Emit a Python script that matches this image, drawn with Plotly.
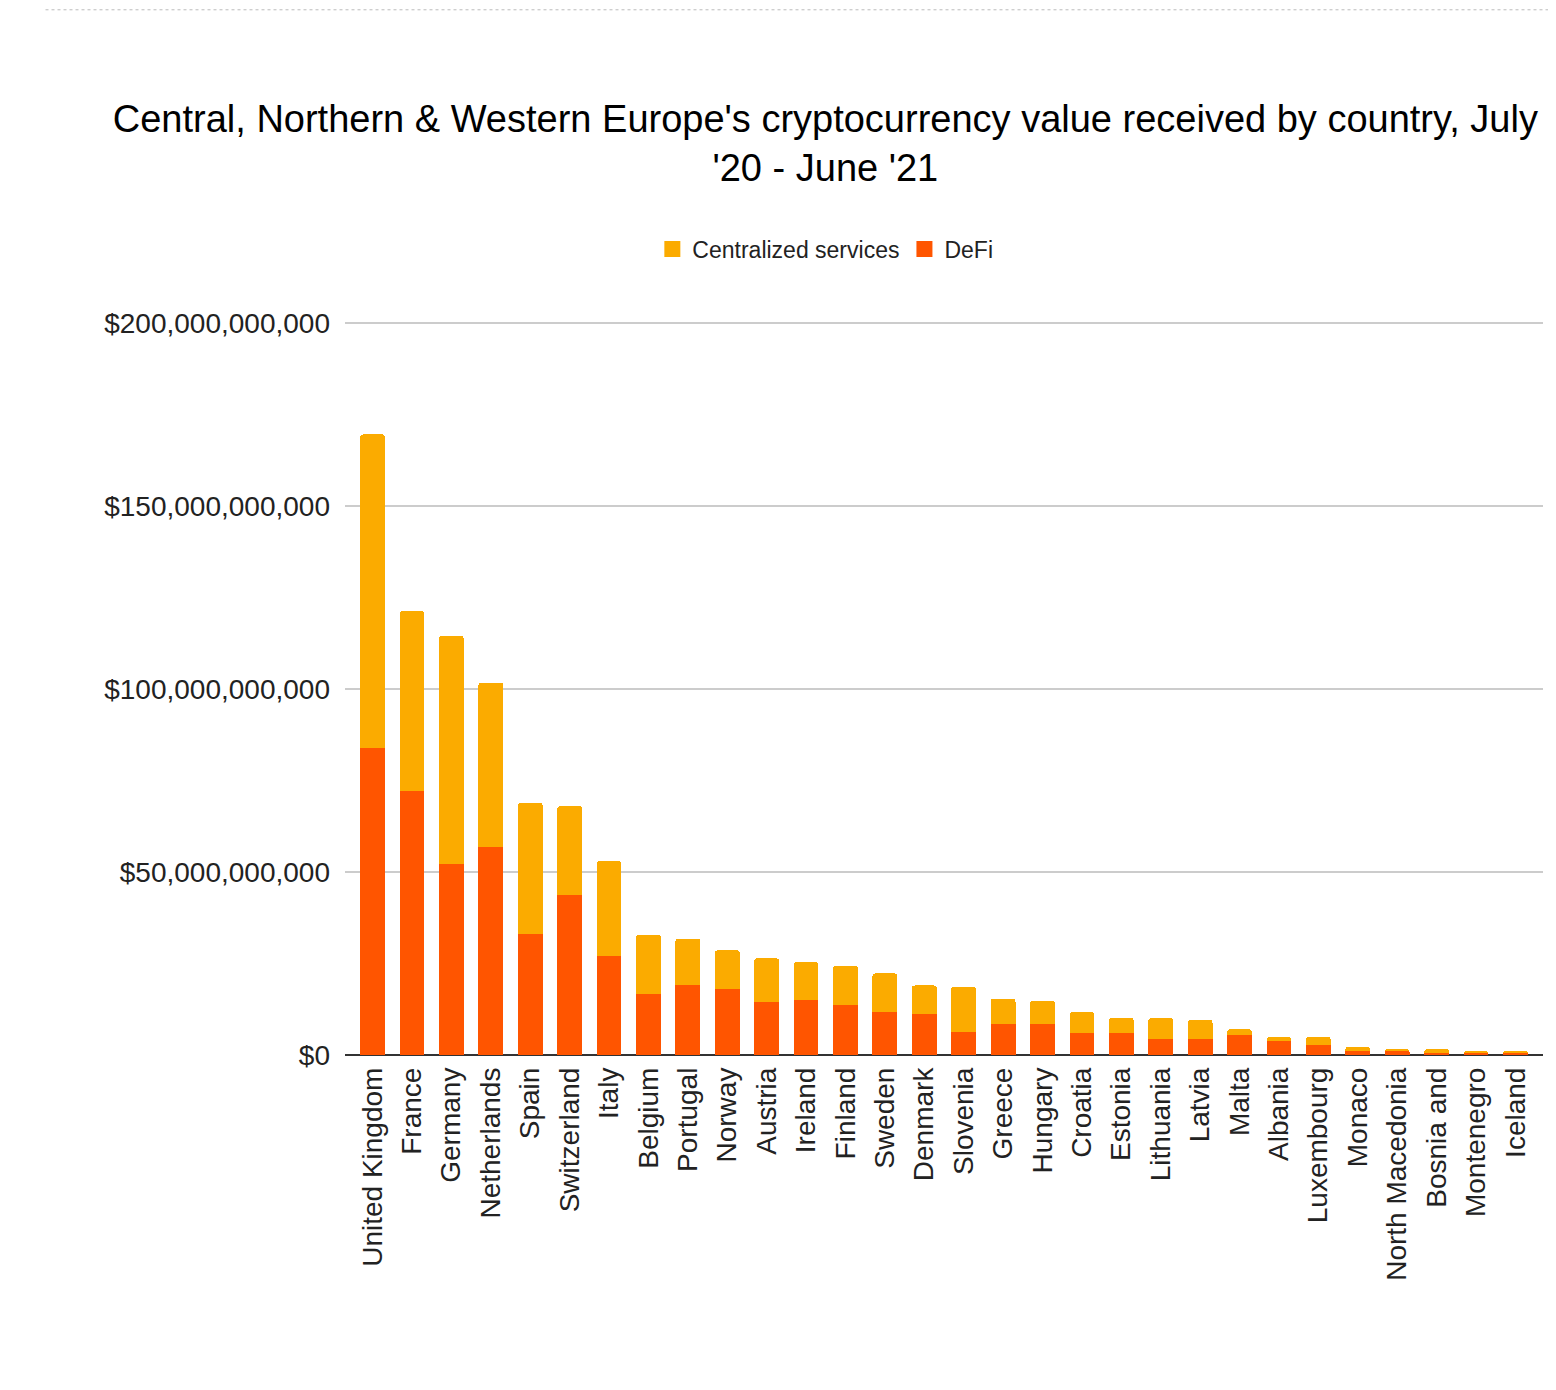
import plotly.graph_objects as go

countries = ["United Kingdom", "France", "Germany", "Netherlands", "Spain", "Switzerland",
             "Italy", "Belgium", "Portugal", "Norway", "Austria", "Ireland", "Finland",
             "Sweden", "Denmark", "Slovenia", "Greece", "Hungary", "Croatia", "Estonia",
             "Lithuania", "Latvia", "Malta", "Albania", "Luxembourg", "Monaco",
             "North Macedonia", "Bosnia and", "Montenegro", "Iceland"]

# values in billions of USD
defi_bn = [83.9, 72.1, 52.1, 56.8, 33.0, 43.6, 27.1, 16.6, 19.1, 18.0, 14.4, 14.9, 13.8,
           11.7, 11.1, 6.4, 8.5, 8.5, 6.0, 6.0, 4.3, 4.3, 5.4, 3.9, 2.8, 1.2, 1.1, 0.6, 0.6, 0.6]
centralized_bn = [85.7, 49.2, 62.4, 45.0, 35.9, 24.4, 25.9, 16.3, 12.7, 10.6, 12.0, 10.5, 10.6,
                  10.6, 7.9, 12.3, 6.9, 6.3, 5.7, 4.1, 5.8, 5.3, 1.6, 1.0, 2.1, 1.0, 0.5, 1.0, 0.6, 0.6]

y_tick_values = [0, 50e9, 100e9, 150e9, 200e9]
y_tick_labels = ["$0", "$50,000,000,000", "$100,000,000,000", "$150,000,000,000", "$200,000,000,000"]

defi = [v * 1e9 for v in defi_bn]
centralized = [v * 1e9 for v in centralized_bn]

FONT = "Liberation Sans, Arial, sans-serif"
C_CENT = "#FBAB00"
C_DEFI = "#FF5500"

fig = go.Figure()
fig.add_trace(go.Bar(x=countries, y=defi, name="DeFi", marker_color=C_DEFI,
                     marker_line_width=0, showlegend=False))
fig.add_trace(go.Bar(x=countries, y=centralized, name="Centralized services",
                     marker_color=C_CENT, marker_line_width=0, showlegend=False))
# legend entries with square swatches
fig.add_trace(go.Scatter(x=[None], y=[None], mode="markers", name="Centralized services",
                         marker=dict(symbol="square", size=16, color=C_CENT)))
fig.add_trace(go.Scatter(x=[None], y=[None], mode="markers", name="DeFi",
                         marker=dict(symbol="square", size=16, color=C_DEFI)))

fig.update_layout(
    barmode="stack",
    bargap=0.37,
    barcornerradius=3,
    width=1548, height=1382,
    paper_bgcolor="white", plot_bgcolor="white",
    margin=dict(l=337, r=13, t=313, b=335),
    font=dict(family=FONT, color="#222222"),
    title=dict(
        text="Central, Northern & Western Europe's cryptocurrency value received by country, July<br>'20 - June '21",
        x=0.528, xref="container", xanchor="center",
        y=0.9105, yref="container", yanchor="middle",
        font=dict(size=38, color="#000000", family=FONT),
    ),
    legend=dict(
        orientation="h", traceorder="normal",
        x=0.528, xref="container", xanchor="center",
        y=0.8256, yref="container", yanchor="middle",
        font=dict(size=23, color="#222222"),
        itemwidth=30,
    ),
    xaxis=dict(
        type="category", range=[-0.7, 29.7], tickangle=-90,
        tickfont=dict(size=28, color="#222222"), showgrid=False,
        showline=False, ticks="", ticklabelstandoff=6,
    ),
    yaxis=dict(
        range=[0, 200.6e9], tickmode="array",
        tickvals=y_tick_values, ticktext=y_tick_labels,
        tickfont=dict(size=28, color="#222222"),
        showgrid=True, gridcolor="#CCCCCC", gridwidth=1.5,
        zeroline=True, zerolinecolor="#333333", zerolinewidth=2,
        ticklabelstandoff=14,
    ),
)

fig.add_shape(type="line", xref="paper", yref="paper",
              x0=-0.25, x1=1.011, y0=1.424, y1=1.424,
              line=dict(color="#BBBBBB", width=1, dash="dot"))

fig.write_html("out.html")
